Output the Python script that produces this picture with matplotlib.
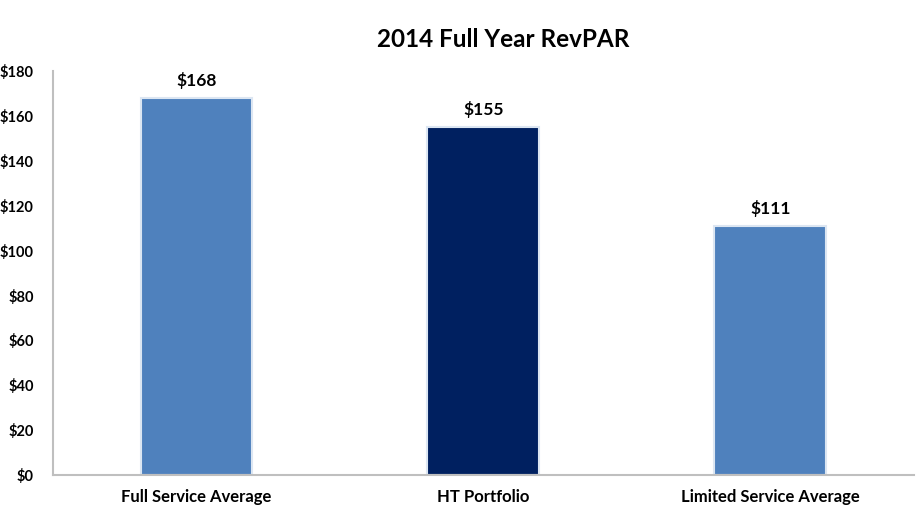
import matplotlib.pyplot as plt

categories = ['Full Service Average', 'HT Portfolio', 'Limited Service Average']
revpar = [168, 155, 111]
bar_colors = ['#4F81BD', '#002060', '#4F81BD']
yticks = [0, 20, 40, 60, 80, 100, 120, 140, 160, 180]

plt.rcParams['font.family'] = ['Lato', 'DejaVu Sans']

fig = plt.figure(figsize=(9.24, 5.16), dpi=100)
ax = fig.add_axes([0.0574, 0.0795, 0.9316, 0.7825])

x = range(len(categories))
ax.bar(x, revpar, width=0.39, color=bar_colors, edgecolor='#DCE6F2', linewidth=1.5)

for xi, v in zip(x, revpar):
    ax.text(xi, v + 4, f'${v}', ha='center', va='bottom', fontsize=12.5, fontweight='bold')

ax.set_xlim(-0.5, 2.5)
ax.set_ylim(0, 180)
ax.set_yticks(yticks)
ax.set_yticklabels([f'${t}' for t in yticks], fontsize=10.5, fontweight='bold')
ax.set_xticks(list(x))
ax.set_xticklabels(categories, fontsize=12, fontweight='bold')
ax.tick_params(length=0)
ax.tick_params(axis='y', pad=14)
ax.tick_params(axis='x', pad=10)

for s in ['top', 'right']:
    ax.spines[s].set_visible(False)
for s in ['left', 'bottom']:
    ax.spines[s].set_color('#BFBFBF')
    ax.spines[s].set_linewidth(1.5)

fig.suptitle('2014 Full Year RevPAR', x=0.545, y=0.945, fontsize=17.5, fontweight='bold')

fig.savefig('out.png', dpi=100)
